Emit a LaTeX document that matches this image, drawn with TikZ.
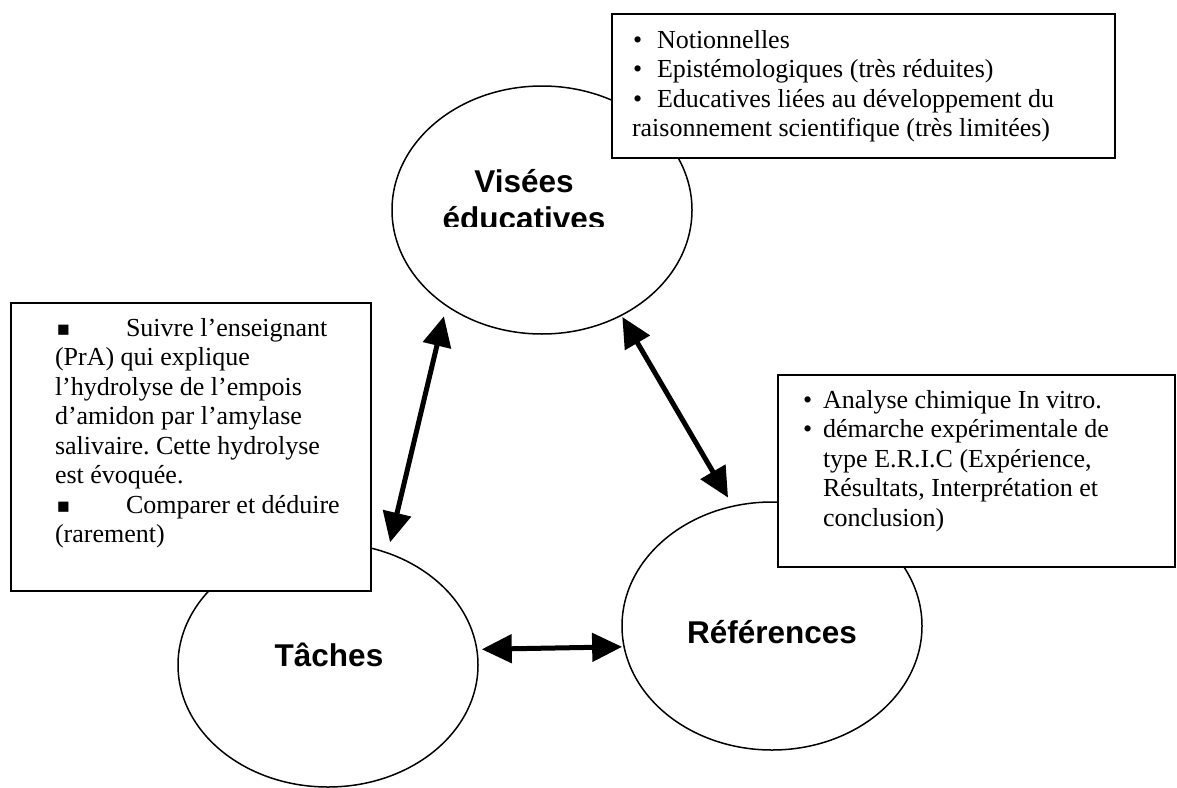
\documentclass[tikz,border=0pt]{standalone}
\usepackage{fontspec}
\setmainfont{Liberation Serif}
\newfontfamily\labelfont{Liberation Sans}
\usetikzlibrary{shapes.geometric,arrows.meta}
\frenchspacing
\begin{document}
\begin{tikzpicture}[x=1pt,y=-1pt,
  ell/.style={draw, ellipse, line width=1.5pt, inner sep=0pt, outer sep=0pt, minimum width=300pt},
  box/.style={draw, line width=2pt, fill=white, anchor=north west, inner sep=0pt, outer sep=0pt},
  txt/.style={anchor=base west, inner sep=0pt, outer sep=0pt, font=\fontsize{26}{29}\selectfont},
  sq/.style={anchor=base west, inner sep=0pt, outer sep=0pt, font=\fontsize{21}{21}\selectfont},
  lbl/.style={anchor=base, inner sep=0pt, font=\labelfont\bfseries\fontsize{31.5}{31.5}\selectfont},
  dbl/.style={{Triangle[length=30pt,width=28pt]}-{Triangle[length=30pt,width=28pt]}, line width=5pt},
]
\useasboundingbox (0,0) rectangle (1177,787);
% ellipses
\node[ell, minimum height=248pt] (vis) at (542,210) {};
\node[ell, minimum height=244pt] (tac) at (328,665) {};
\node[ell, minimum height=248pt] (ref) at (772,626) {};
% ellipse labels
\node[lbl] (visA) at (524,192) {Visées};
\begin{scope}
  \clip (380,0) rectangle (700,226);
  \node[lbl] (visB) at (524,229) {éducatives};
\end{scope}
\node[lbl] (tacL) at (329,666) {Tâches};
\node[lbl] (refL) at (772,643) {Références};
% boxes
\node[box, minimum width=503pt, minimum height=144pt] (topbox) at (612,14) {};
\node[box, minimum width=360pt, minimum height=288pt] (leftbox) at (11,303) {};
\node[box, minimum width=397pt, minimum height=192pt] (rightbox) at (778,375) {};
% top box text
\node[txt] (tb1) at (633,48) {•};
\node[txt] (tt1) at (657,48) {Notionnelles};
\node[txt] (tb2) at (633,77.5) {•};
\node[txt] (tt2) at (657,77.5) {Epistémologiques (très réduites)};
\node[txt] (tb3) at (633,107) {•};
\node[txt] (tt3) at (657,107) {Educatives liées au développement du};
\node[txt] (tt4) at (632,136.5) {raisonnement scientifique (très limitées)};
% left box text
\node[sq] (lb1) at (57,336) {■};
\node[txt] (lt1) at (126,336) {Suivre l’enseignant};
\node[txt] (lt2) at (55,365.5) {(PrA) qui explique};
\node[txt] (lt3) at (55,395) {l’hydrolyse de l’empois};
\node[txt] (lt4) at (55,424.5) {d’amidon par l’amylase};
\node[txt] (lt5) at (55,454) {salivaire. Cette hydrolyse};
\node[txt] (lt6) at (55,483.5) {est évoquée.};
\node[sq] (lb2) at (57,513) {■};
\node[txt] (lt7) at (126,513) {Comparer et déduire};
\node[txt] (lt8) at (55,542.5) {(rarement)};
% right box text
\node[txt] (rb1) at (803,408) {•};
\node[txt] (rt1) at (823,408) {Analyse chimique In vitro.};
\node[txt] (rb2) at (803,437.5) {•};
\node[txt] (rt2) at (823,437.5) {démarche expérimentale de};
\node[txt] (rt3) at (823,467) {type E.R.I.C (Expérience,};
\node[txt] (rt4) at (823,496.5) {Résultats, Interprétation et};
\node[txt] (rt5) at (823,526) {conclusion)};
% arrows
\draw[dbl, shorten <=11pt, shorten >=11pt] (vis.225.5) -- (tac.62.1);
\draw[dbl, shorten <=2pt, shorten >=10pt] (vis.-53.2) -- (ref.108.5);
\draw[dbl, shorten <=5pt, shorten >=2pt] (tac.6.9) -- (ref.188.1);
\end{tikzpicture}
\end{document}
